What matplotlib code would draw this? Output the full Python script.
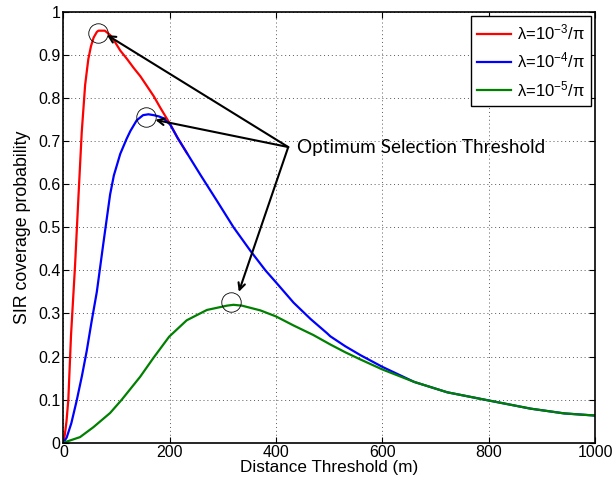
import matplotlib
matplotlib.use("Agg")
import matplotlib.pyplot as plt

plt.rcParams['font.family'] = ['Liberation Sans', 'DejaVu Sans']
plt.rcParams['mathtext.fontset'] = 'custom'
plt.rcParams['mathtext.rm'] = 'Liberation Sans'
plt.rcParams['mathtext.default'] = 'regular'

# values
red_x = [0, 3, 6, 9.4, 14.5, 22, 28, 34.6, 41, 47, 52, 57, 63, 66, 78, 88, 97, 107,
         120, 132, 145, 157, 170, 182, 201, 215, 232.5]
red_y = [0, 0.02, 0.05, 0.1, 0.25, 0.41, 0.56, 0.72, 0.83, 0.89, 0.92, 0.94, 0.953,
         0.956, 0.956, 0.946, 0.93, 0.91, 0.89, 0.87, 0.85, 0.828, 0.804, 0.778, 0.739,
         0.707, 0.672]

blue_x = [0, 6.3, 15, 25, 35, 44, 53, 63, 75, 88, 95, 107, 119, 126, 138, 150, 160,
          170, 180, 188, 201, 215, 232.5, 257.6, 289, 320, 352, 380, 400, 433, 465,
          496, 502, 530, 559, 600, 660, 722, 800, 879, 942, 1000]
blue_y = [0, 0.012, 0.045, 0.097, 0.155, 0.213, 0.28, 0.35, 0.46, 0.576, 0.62, 0.67,
          0.705, 0.723, 0.748, 0.76, 0.762, 0.76, 0.757, 0.753, 0.738, 0.707, 0.672,
          0.622, 0.561, 0.5, 0.445, 0.4, 0.372, 0.325, 0.287, 0.254, 0.247, 0.224,
          0.203, 0.176, 0.141, 0.117, 0.098, 0.079, 0.068, 0.063]

green_x = [0, 31.4, 56.5, 88, 110, 144.5, 169.6, 199, 232, 270, 307.8, 320, 336,
           370.6, 400, 433, 470, 502, 530, 559, 600, 660, 722, 800, 879, 942, 1000]
green_y = [0, 0.013, 0.036, 0.069, 0.1, 0.153, 0.197, 0.246, 0.284, 0.308, 0.318,
           0.32, 0.318, 0.307, 0.293, 0.272, 0.25, 0.228, 0.21, 0.193, 0.17, 0.141,
           0.117, 0.098, 0.079, 0.068, 0.063]

labels = [r'λ=10$^{-3}$/π', r'λ=10$^{-4}$/π', r'λ=10$^{-5}$/π']
peak_x = [64.5, 155, 316]
peak_y = [0.95, 0.756, 0.326]
arrow_tips = [(82, 0.946), (173, 0.749), (330, 0.35)]
arrow_start = (423, 0.686)

fig = plt.figure(figsize=(6.16, 4.84), dpi=100)
ax = fig.add_axes([0.1028, 0.0853, 0.8632, 0.8905])

ax.plot(red_x, red_y, color='red', lw=1.6, label=labels[0])
ax.plot(blue_x, blue_y, color='blue', lw=1.6, label=labels[1])
ax.plot(green_x, green_y, color=(0, 0.5, 0), lw=1.6, label=labels[2])

# circles at the optimum points
ax.plot(peak_x, peak_y, 'o', ms=14, mfc='none', mec='black', mew=0.6)

for tip in arrow_tips:
    ax.annotate('', xy=tip, xytext=arrow_start,
                arrowprops=dict(arrowstyle='->', color='black', lw=1.5,
                                shrinkA=0, shrinkB=0, mutation_scale=12))
ax.text(439.5, 0.686, 'Optimum Selection Threshold', fontsize=13.6,
        family=['Lato', 'DejaVu Sans'], va='center', ha='left')

ax.set_xlim(0, 1000)
ax.set_ylim(0, 1)
ax.set_xticks(range(0, 1001, 200))
ax.set_yticks([i / 10 for i in range(11)])
ax.set_yticklabels(['0'] + ['0.%d' % i for i in range(1, 10)] + ['1'])
ax.tick_params(direction='in', top=True, right=True, labelsize=11.5, length=4, pad=2)
ax.grid(True, linestyle=(0, (1, 3)), color='0.35', lw=0.7)
for s in ax.spines.values():
    s.set_linewidth(1.2)

ax.set_xlabel('Distance Threshold (m)', fontsize=12.3, labelpad=0)
ax.set_ylabel('SIR coverage probability', fontsize=12.8, labelpad=5)

leg = ax.legend(loc='upper right', fontsize=12, handlelength=2.0, fancybox=False,
                framealpha=1, edgecolor='black', borderaxespad=0.25, labelspacing=0.5,
                handletextpad=0.35, borderpad=0.4)
leg.get_frame().set_linewidth(1.0)

fig.savefig('out.png', dpi=100)
